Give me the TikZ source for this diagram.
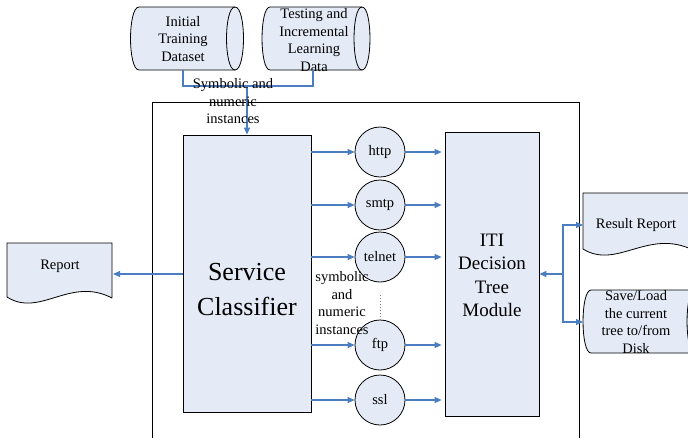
\documentclass[tikz,border=0pt]{standalone}
\usepackage{fontspec}
\setmainfont{Liberation Serif}
\usetikzlibrary{arrows.meta,calc}
\definecolor{boxfill}{RGB}{229,235,246}
\definecolor{flow}{RGB}{74,126,193}

% horizontal drum (stored data): #1 left x, #2 right x, #3 top y, #4 bottom y, #5 end radius
\newcommand{\drumshape}[5]{%
  \path[box] (#1,#3) -- (#2,#3)
    .. controls ({#2+1.33*#5},#3) and ({#2+1.33*#5},#4) .. (#2,#4)
    -- (#1,#4)
    .. controls ({#1-1.33*#5},#4) and ({#1-1.33*#5},#3) .. cycle;
  \draw[line width=0.8pt] (#2,#3)
    .. controls ({#2-1.33*#5},#3) and ({#2-1.33*#5},#4) .. (#2,#4);
}

\begin{document}
\begin{tikzpicture}[x=1pt,y=-1pt,
  box/.style={draw=black, line width=0.8pt, fill=boxfill},
  rectbox/.style={box, inner sep=0pt},
  svc/.style={box, circle, minimum size=50pt, inner sep=0pt,
    font=\fontsize{14.5}{17}\selectfont},
  txt/.style={align=center, inner sep=0pt, font=\fontsize{14.5}{17.5}\selectfont},
  flowline/.style={draw=flow, line width=1.1pt},
  flowarrow/.style={flowline, -{Triangle[length=7pt,width=6pt]}}]
\useasboundingbox (0,0) rectangle (688,437);

% enclosing frame, open at the bottom
\draw[line width=0.8pt] (152,445) -- (152,102) -- (579,102) -- (579,445);

% input data stores
\drumshape{139}{235}{7}{70}{8.5}
\drumshape{270}{362}{7}{70}{8}
\node[txt] (init) at (183,39) {Initial\\Training\\Dataset};
\node[txt] (test) at (314,40) {Testing and\\Incremental\\Learning\\Data};
\coordinate (initB) at (183,70);
\coordinate (testB) at (313,70);
\coordinate (join) at (247,86);

% main modules
\node[rectbox, minimum width=128pt, minimum height=277pt] (sc) at (247,273.5) {};
\node[align=center, inner sep=0pt, font=\fontsize{26}{35}\selectfont]
  (sctext) at (247,289.5) {Service\\Classifier};
\node[rectbox, minimum width=94pt, minimum height=284pt] (iti) at (492,274) {};
\node[align=center, inner sep=0pt, font=\fontsize{19}{23.5}\selectfont]
  (ititext) at (492,275.5) {ITI\\Decision\\Tree\\Module};

% per-service classifiers
\node[svc] (http)   at (380,152) {http};
\node[svc] (smtp)   at (380,205) {smtp};
\node[svc] (telnet) at (380,257) {telnet};
\node[svc] (ftp)    at (380,345) {ftp};
\node[svc] (ssl)    at (380,400) {ssl};
\draw[dotted, gray, line width=0.9pt, shorten <=13pt] (telnet.south) -- (ftp.north);

% report document on the left
\path[box] (112,298) -- (112,243) -- (7,243) -- (7,297)
  .. controls (40,318) and (70,276) .. (112,298);
\node[txt] (report) at (60,266) {Report};
\coordinate (repE) at (113,274);

% outputs on the right
\path[box] (693,250) -- (693,193) -- (583,193) -- (583,249)
  .. controls (617,270) and (648,228) .. (693,250);
\node[txt] (result) at (636,225) {Result Report};
\drumshape{591}{695}{290}{353}{8}
\node[txt] (disk) at (636,322) {Save/Load\\the current\\tree to/from\\Disk};
\coordinate (resW) at (583,225);
\coordinate (diskW) at (583,322);
\coordinate (fork) at (563,274);

% connectors
\draw[flowline] (initB) |- (join);
\draw[flowline] (testB) |- (join);
\draw[flowarrow] (join) -- (sc.north);
\node[txt] (symlbl) at (233,101.5) {Symbolic and\\numeric\\instances};

\foreach \s in {http,smtp,telnet,ftp,ssl}{
  \draw[flowarrow] (sc.east |- \s.west) -- (\s.west);
  \draw[flowarrow, shorten >=3pt] (\s.east) -- (\s.east -| iti.west);
}
\node[txt] (midlbl) at (342,303) {symbolic\\and\\numeric\\instances};

\draw[flowarrow] (sc.west |- repE) -- (repE);
\draw[flowarrow] (fork) -- (fork -| iti.east);
\draw[flowarrow] (fork) |- (resW);
\draw[flowarrow] (fork) |- (diskW);
\end{tikzpicture}
\end{document}
